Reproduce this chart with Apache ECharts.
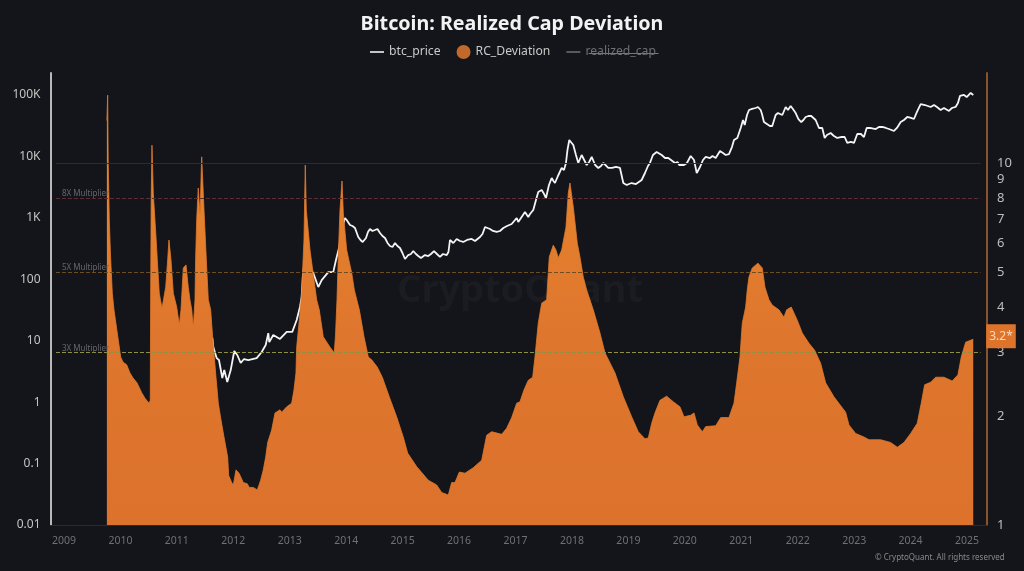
<!DOCTYPE html>
<html>
<head>
<meta charset="utf-8">
<title>Bitcoin: Realized Cap Deviation</title>
<style>
html,body{margin:0;padding:0;background:#14151a;}
#chart{width:1024px;height:571px;}
</style>
<script src="https://cdn.jsdelivr.net/npm/echarts@6/dist/echarts.min.js"></script>
</head>
<body>
<div id="chart"></div>
<script>
// tick labels
var yearTicks = [2009,2010,2011,2012,2013,2014,2015,2016,2017,2018,2019,2020,2021,2022,2023,2024,2025];
var priceTicks = [0.01,0.1,1,10,100,1000,10000,100000];
var priceTickLabels = ['0.01','0.1','1','10','100','1K','10K','100K'];
var deviationTicks = [1,2,3,4,5,6,7,8,9,10];

// RC_Deviation
var rcYears = [2009.76,2009.774,2009.783,2009.803,2009.824,2009.856,2009.886,2009.944,2010.005,2010.045,2010.111,2010.169,2010.222,2010.293,2010.377,2010.435,2010.506,2010.529,2010.536,2010.545,2010.559,2010.582,2010.63,2010.688,2010.736,2010.763,2010.802,2010.837,2010.86,2010.896,2010.937,2010.997,2011.043,2011.073,2011.114,2011.162,2011.202,2011.232,2011.263,2011.291,2011.321,2011.332,2011.351,2011.379,2011.41,2011.44,2011.481,2011.528,2011.557,2011.599,2011.635,2011.693,2011.734,2011.782,2011.835,2011.9,2011.918,2011.971,2012,2012.048,2012.101,2012.177,2012.248,2012.283,2012.354,2012.425,2012.485,2012.531,2012.574,2012.609,2012.68,2012.739,2012.827,2012.857,2012.946,2013.034,2013.075,2013.11,2013.123,2013.181,2013.211,2013.252,2013.275,2013.293,2013.359,2013.447,2013.477,2013.523,2013.594,2013.713,2013.789,2013.811,2013.837,2013.864,2013.89,2013.926,2013.949,2014.009,2014.098,2014.144,2014.233,2014.316,2014.392,2014.452,2014.551,2014.64,2014.763,2014.894,2015.011,2015.089,2015.248,2015.454,2015.603,2015.692,2015.809,2015.869,2015.928,2016.004,2016.105,2016.252,2016.401,2016.447,2016.489,2016.578,2016.755,2016.843,2016.932,2017.021,2017.079,2017.15,2017.226,2017.304,2017.345,2017.403,2017.464,2017.552,2017.598,2017.669,2017.717,2017.758,2017.818,2017.894,2017.935,2017.965,2018.024,2018.095,2018.142,2018.201,2018.261,2018.378,2018.497,2018.585,2018.763,2018.91,2019.058,2019.175,2019.294,2019.353,2019.413,2019.471,2019.56,2019.678,2019.795,2019.914,2019.985,2020.104,2020.163,2020.221,2020.31,2020.37,2020.547,2020.636,2020.782,2020.871,2020.919,2020.977,2021.018,2021.078,2021.106,2021.136,2021.195,2021.296,2021.372,2021.42,2021.491,2021.549,2021.668,2021.756,2021.804,2021.886,2021.992,2022.081,2022.199,2022.3,2022.406,2022.495,2022.642,2022.849,2022.908,2023.027,2023.174,2023.263,2023.47,2023.647,2023.764,2023.883,2024.001,2024.118,2024.189,2024.249,2024.356,2024.444,2024.591,2024.738,2024.839,2024.898,2024.976,2025.11];
var rcValues = [13.1,15.4,10.2,6.96,5.57,4.37,3.93,3.39,2.91,2.82,2.77,2.63,2.55,2.47,2.32,2.24,2.17,2.21,4.46,7.9,11.2,8.26,6.25,4.37,3.97,4.19,4.54,5.4,6.13,5.4,4.37,4,3.57,3.93,5.13,5.23,4.54,4.19,3.93,3.5,4.19,5.4,6.96,8.53,7.18,10.4,7.41,5.16,4.19,3.93,3.28,2.56,2.17,1.95,1.75,1.54,1.37,1.31,1.29,1.42,1.39,1.31,1.3,1.27,1.27,1.25,1.33,1.42,1.54,1.69,1.83,2.04,2.08,2.05,2.12,2.17,2.36,2.63,3.1,3.85,4.37,6.13,9.87,7.41,5.75,4.54,4.19,3.93,3.31,3.1,2.99,3.35,4.19,5.75,7.41,8.92,7.28,5.75,4.97,4.46,3.93,3.31,2.91,2.86,2.73,2.56,2.26,1.99,1.75,1.58,1.45,1.33,1.29,1.23,1.21,1.31,1.31,1.4,1.39,1.44,1.51,1.64,1.77,1.81,1.78,1.85,1.98,2.17,2.19,2.36,2.51,2.56,2.91,3.61,4.1,4.19,5.5,5.93,5.75,5.47,5.75,6.65,8.26,8.81,7.56,6,5.5,4.84,4.46,3.93,3.39,2.99,2.63,2.26,1.99,1.81,1.73,1.74,1.91,2.04,2.21,2.27,2.19,2.12,1.99,2.01,2.04,1.89,1.81,1.87,1.88,1.98,1.98,2.17,2.47,2.91,3.61,4,4.46,4.84,5.13,5.29,5.13,4.54,4.19,4.05,3.93,3.75,3.93,4,3.68,3.39,3.18,3.04,2.8,2.47,2.26,2.05,1.89,1.79,1.75,1.72,1.72,1.69,1.64,1.69,1.79,1.91,2.17,2.44,2.48,2.56,2.56,2.5,2.6,2.91,3.2,3.26];

// btc_price
var priceYears = [2011.628,2011.646,2011.706,2011.746,2011.805,2011.84,2011.893,2011.954,2012.017,2012.07,2012.131,2012.189,2012.265,2012.414,2012.503,2012.574,2012.62,2012.637,2012.708,2012.827,2012.946,2013.045,2013.123,2013.181,2013.211,2013.234,2013.27,2013.305,2013.359,2013.417,2013.506,2013.566,2013.683,2013.771,2013.819,2013.877,2013.907,2013.943,2013.978,
	2014.009,2014.067,2014.112,2014.156,2014.214,2014.253,2014.292,2014.351,2014.386,2014.422,2014.465,2014.51,2014.554,2014.599,2014.643,2014.688,2014.732,2014.776,2014.82,2014.865,2014.909,2014.953,2014.997,
	2015.042,2015.1,2015.147,2015.189,2015.236,2015.277,2015.325,2015.396,2015.454,2015.502,2015.556,2015.608,2015.662,2015.715,2015.781,2015.812,2015.839,2015.898,2015.958,
	2016.017,2016.075,2016.141,2016.224,2016.283,2016.371,2016.415,2016.46,2016.548,2016.601,2016.667,2016.725,2016.784,2016.849,2016.932,
	2017.021,2017.049,2017.097,2017.168,2017.226,2017.257,2017.315,2017.363,2017.403,2017.464,2017.496,2017.54,2017.593,2017.641,2017.673,2017.699,2017.752,2017.818,2017.859,2017.894,2017.921,2017.953,2017.983,
	2018.024,2018.071,2018.112,2018.172,2018.217,2018.261,2018.305,2018.35,2018.411,2018.467,2018.515,2018.555,2018.595,2018.644,2018.71,2018.781,2018.851,2018.91,2018.97,
	2019.011,2019.058,2019.135,2019.235,2019.294,2019.347,2019.382,2019.435,2019.501,2019.524,2019.59,2019.649,2019.707,2019.755,2019.826,2019.87,2019.902,2019.985,
	2020.038,2020.104,2020.163,2020.211,2020.269,2020.322,2020.37,2020.446,2020.49,2020.547,2020.623,2020.676,2020.724,2020.782,2020.835,2020.871,2020.93,2020.99,
	2021.031,2021.061,2021.102,2021.137,2021.191,2021.255,2021.296,2021.344,2021.367,2021.402,2021.455,2021.508,2021.549,2021.609,2021.65,2021.727,2021.787,2021.827,2021.875,2021.915,2021.964,
	2022.013,2022.063,2022.101,2022.141,2022.19,2022.24,2022.27,2022.318,2022.377,2022.435,2022.478,2022.518,2022.584,2022.642,2022.701,2022.766,2022.832,2022.878,2022.943,2022.997,
	2023.055,2023.12,2023.174,2023.222,2023.28,2023.382,2023.439,2023.499,2023.563,2023.616,2023.706,2023.758,2023.825,2023.883,2023.942,
	2024.007,2024.06,2024.113,2024.179,2024.255,2024.356,2024.415,2024.467,2024.533,2024.591,2024.68,2024.733,2024.798,2024.839,2024.875,2024.91,2024.946,2024.994,
	2025.026,2025.065,2025.111];
var priceValues = [11.1,7.9,5.2,4.85,2.47,3.33,2.13,3.33,6.79,5.85,4.34,5.03,4.85,5.2,6.55,8.5,13.3,9.5,12.4,10.7,13.9,13.9,21.7,35.4,51.4,117,231,191,153,126,74.8,97,131,131,206,335,526,766,995,
	923,766,736,684,488,436,405,470,589,658,611,634,658,566,507,470,390,348,335,390,348,323,268,
	214,248,258,288,258,239,222,248,239,258,288,258,231,258,248,278,436,390,453,
	420,405,436,453,420,488,546,710,658,611,589,611,684,736,794,
	995,855,995,1245,1032,1156,1343,1954,2636,2838,2541,2104,3428,4457,3981,3690,4800,6486,6012,7816,12740,18500,17800,
	15350,10550,7816,10550,8750,7244,8110,9795,7244,6486,6980,7816,7244,6486,6486,6730,6486,3690,3428,
	3556,3690,3556,4130,5370,6980,7816,10550,11800,11380,10550,9420,9420,8750,7816,8110,7244,7244,
	7816,10160,8750,5370,6730,8750,9795,9420,10160,9420,12250,11380,10550,10940,14220,18500,19950,29040,
	39170,32500,47200,57000,59200,61400,63800,57000,49000,36300,33700,31260,31260,47200,50900,47200,63800,57000,66200,59200,50900,
	40640,36300,39170,43850,45500,45500,42300,39170,29040,29040,19950,22340,24050,21500,19950,20700,20700,16560,17200,16560,
	23170,23170,20700,29040,29040,27930,30130,30130,29040,27930,25940,29040,36300,39170,43850,
	42300,40640,52900,71300,68700,63800,68700,63800,57000,61400,54950,61400,63800,74100,96400,100000,100000,92700,
	96400,107900,100000];

// multiplier levels on the right axis
var multiplierLevels = [10,8,5,3];
var multiplierNames = ['','8X Multiplier','5X Multiplier','3X Multiplier'];
var multiplierColors = ['#2c2a33','#5e2c33','#6e4d22','#8f8f45'];
var lineStartYear = 2008.858, lineEndYear = 2025.24;

function pairs(xs, ys){
	var out = [];
	for(var i=0;i<xs.length;i++){
		out.push([xs[i],ys[i]]);
	}
	return out;
}

var markLines = [];
for(var i=0;i<multiplierLevels.length;i++){
	markLines.push([
		{
			coord:[lineStartYear,multiplierLevels[i]],
			lineStyle:{color:multiplierColors[i],width:1,type:i==0?'solid':'dashed',opacity:1},
			label:{
				show:multiplierNames[i]!='',
				formatter:multiplierNames[i],
				position:'insideStartTop',
				color:'#66666c',
				fontSize:8,
				distance:[6,0]
			}
		},
		{coord:[lineEndYear,multiplierLevels[i]]}
	]);
}

var linePath = 'path://M0,6H14V7.5H0Z';
var baseFont = '"Noto Sans", sans-serif';

var option = {
	backgroundColor:'#14151a',
	animation:false,
	textStyle:{fontFamily:baseFont},
	title:{
		text:'Bitcoin: Realized Cap Deviation',
		left:'center',
		top:9,
		textStyle:{color:'#f2f2f2',fontSize:19.7,fontWeight:'bold',fontFamily:baseFont}
	},
	legend:{
		left:365,
		top:40,
		itemWidth:14,
		itemHeight:14,
		itemGap:16,
		inactiveColor:'#6f6f75',
		textStyle:{color:'#c9c9c9',fontSize:12.2,fontFamily:baseFont},
		selected:{realized_cap:false},
		data:[
			{name:'btc_price',icon:linePath},
			{name:'RC_Deviation',icon:'circle'},
			{name:'realized_cap',icon:linePath}
		]
	},
	grid:{left:50.5,right:37,top:73,bottom:46,containLabel:false},
	xAxis:{
		type:'value',
		min:2008.761,
		max:2025.354,
		splitLine:{show:false},
		axisLine:{show:true,onZero:false,lineStyle:{color:'#2c2a2c',width:1}},
		axisTick:{show:false},
		axisLabel:{
			color:'#6f7075',
			fontSize:10.5,
			margin:11,
			customValues:yearTicks,
			hideOverlap:false,
			formatter:function(v){return String(v);}
		}
	},
	yAxis:[
		{
			type:'log',
			logBase:10,
			min:0.01,
			max:228000,
			position:'left',
			splitLine:{show:false},
			minorSplitLine:{show:false},
			axisLine:{show:true,onZero:false,lineStyle:{color:'#b9b9b9',width:2}},
			axisTick:{show:false},
			axisLabel:{
				color:'#c4c4c4',
				fontSize:12,
				margin:10,
				padding:[0,0,3,0],
				customValues:priceTicks,
				formatter:function(v){
					var at = priceTicks.indexOf(v);
					return at>=0?priceTickLabels[at]:'';
				}
			}
		},
		{
			type:'log',
			logBase:10,
			min:1,
			max:17.73,
			position:'right',
			splitLine:{show:false},
			minorSplitLine:{show:false},
			axisLine:{show:true,onZero:false,lineStyle:{color:'#8a5228',width:2}},
			axisTick:{show:false},
			axisLabel:{
				color:'#bdbdbd',
				fontSize:13,
				margin:10,
				padding:[0,0,3,0],
				customValues:deviationTicks,
				formatter:function(v){return String(v);}
			}
		}
	],
	series:[
		{
			name:'realized_cap',
			type:'line',
			yAxisIndex:0,
			data:[],
			showSymbol:false,
			itemStyle:{color:'#8a8a8a'}
		},
		{
			name:'btc_price',
			type:'line',
			yAxisIndex:0,
			z:2,
			data:pairs(priceYears,priceValues),
			showSymbol:false,
			sampling:'none',
			itemStyle:{color:'#ffffff'},
			lineStyle:{color:'#f4f4f4',width:1.8}
		},
		{
			name:'RC_Deviation',
			type:'line',
			yAxisIndex:1,
			z:3,
			data:pairs(rcYears,rcValues),
			showSymbol:false,
			sampling:'none',
			itemStyle:{color:'#c0692b'},
			lineStyle:{color:'#e07a2c',width:0.8},
			areaStyle:{
				origin:'start',
				opacity:1,
				color:{type:'linear',x:0,y:0,x2:0,y2:1,colorStops:[
					{offset:0,color:'#ea8a2e'},
					{offset:0.55,color:'#df762d'},
					{offset:1,color:'#dc722c'}
				]}
			},
			endLabel:{
				show:true,
				formatter:'3.2*',
				color:'#ffd9b5',
				fontSize:12,
				backgroundColor:'#de742c',
				padding:[6,3,6,3],
				distance:13,
				offset:[0,-3]
			},
			markLine:{
				silent:true,
				symbol:'none',
				animation:false,
				data:markLines
			}
		}
	],
	graphic:[
		{
			type:'text',
			left:397,
			top:272,
			z:-1,
			style:{text:'CryptoQuant',fill:'#1b1c21',font:'bold 38px "Noto Sans", sans-serif'}
		},
		{
			type:'text',
			left:875,
			top:554,
			style:{text:'© CryptoQuant. All rights reserved',fill:'#8a8a8a',font:'8px "Noto Sans", sans-serif'}
		},
		{
			// realized_cap is switched off in the legend, struck through like the original
			type:'line',
			left:586,
			top:51,
			shape:{x1:0,y1:0,x2:70,y2:0},
			style:{stroke:'#77777c',lineWidth:1}
		}
	]
};

var myChart = echarts.init(document.getElementById('chart'),null,{renderer:'canvas'});
myChart.setOption(option);
</script>
</body>
</html>
